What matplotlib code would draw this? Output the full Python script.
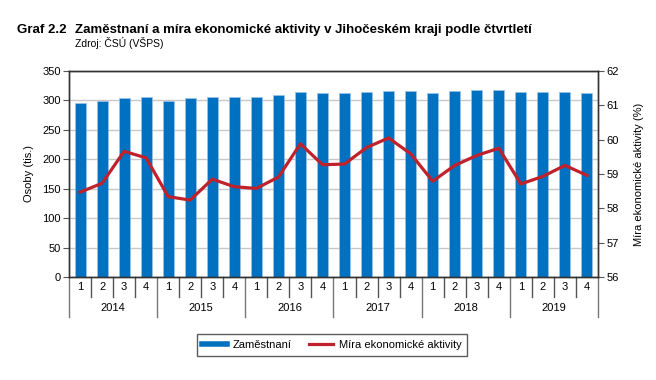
import matplotlib
matplotlib.use("Agg")
import matplotlib.pyplot as plt
import matplotlib.transforms as mtransforms
from matplotlib.lines import Line2D
import numpy as np

plt.rcParams['font.family'] = ['Liberation Sans', 'DejaVu Sans']

roky = ['2014', '2015', '2016', '2017', '2018', '2019']
ctvrtleti = ['1', '2', '3', '4']
zamestnani = [295, 299, 304, 305, 299, 304, 306, 305.5,
              306, 310, 314, 313, 312, 314.5, 316, 316,
              313, 316, 317, 317, 313.5, 313.5, 315, 312.5]
mira = [58.47, 58.73, 59.66, 59.47, 58.34, 58.24, 58.85, 58.63,
        58.58, 58.91, 59.88, 59.27, 59.29, 59.77, 60.05, 59.59,
        58.79, 59.25, 59.54, 59.75, 58.71, 58.93, 59.25, 58.96]

modra = '#0070C0'
cervena = '#C0222C'

fig = plt.figure(figsize=(6.56, 3.8), dpi=100)
ax = fig.add_axes([69/656, 1-277/380, (598-69)/656, (277-71)/380])
ax2 = ax.twinx()

x = np.arange(len(zamestnani))
ax.bar(x, zamestnani, width=0.5, color=modra, edgecolor='#9cc3e6', linewidth=0.5,
       zorder=2, label='Zaměstnaní')
ax2.plot(x, mira, color=cervena, linewidth=2.3, zorder=3, label='Míra ekonomické aktivity')

ax.set_xlim(-0.5, len(x) - 0.5)
ax.set_ylim(0, 350)
ax.set_yticks(np.arange(0, 351, 50))
ax2.set_ylim(56, 62)
ax2.set_yticks(np.arange(56, 63, 1))
ax.yaxis.grid(True, color='#c8c8c8', linewidth=1)
ax.set_axisbelow(True)

for a in (ax, ax2):
    for s in a.spines.values():
        s.set_color('#333333')
        s.set_linewidth(1)
    a.tick_params(axis='y', labelsize=8, length=4, color='#555555', pad=2)

ax.set_ylabel('Osoby (tis.)', fontsize=8, labelpad=6)
ax2.set_ylabel('Míra ekonomické aktivity (%)', fontsize=8, labelpad=11)

# dvouúrovňová osa x
ax.set_xticks([])
trans = mtransforms.blended_transform_factory(ax.transData, ax.transAxes)
for i in range(len(x)):
    ax.text(i, -0.048, ctvrtleti[i % 4], transform=trans, ha='center', va='center', fontsize=8)
for i in range(1, len(x)):
    if i % 4:
        ax.plot([i - 0.5, i - 0.5], [0, -0.096], transform=trans, color='#555555',
                linewidth=1, clip_on=False)
for j, rok in enumerate(roky):
    ax.text(4 * j + 1.5, -0.15, rok, transform=trans, ha='center', va='center', fontsize=8)
for j in range(len(roky) + 1):
    ax.plot([4 * j - 0.5, 4 * j - 0.5], [0, -0.193], transform=trans, color='#777777',
            linewidth=1, clip_on=False)

h2, l2 = ax2.get_legend_handles_labels()
hb = Line2D([], [], color=modra, linewidth=4)
leg = fig.legend([hb, h2[0]], ['Zaměstnaní', l2[0]], loc='center',
                 bbox_to_anchor=(332/656, 1-345/380),
                 ncol=2, fontsize=8, frameon=True, fancybox=False, edgecolor='#333333',
                 handlelength=2.2, handletextpad=0.5, columnspacing=1.6, borderpad=0.5)
leg.get_frame().set_linewidth(1)

fig.text(17/656, 1-30/380, 'Graf 2.2', fontsize=9.5, fontweight='bold', va='center')
fig.text(75/656, 1-30/380, 'Zaměstnaní a míra ekonomické aktivity v Jihočeském kraji podle čtvrtletí',
         fontsize=9.5, fontweight='bold', va='center')
fig.text(75/656, 1-43/380, 'Zdroj: ČSÚ (VŠPS)', fontsize=7.5, va='center')

fig.savefig('out.png', dpi=100)
